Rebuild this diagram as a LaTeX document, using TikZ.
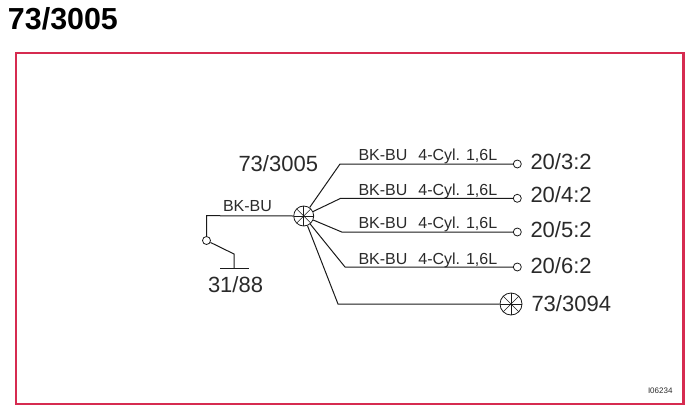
\documentclass[tikz,border=0pt]{standalone}
\usepackage{fontspec}
\setmainfont{Liberation Sans}
\definecolor{framered}{HTML}{D62B50}
\definecolor{inkgrey}{HTML}{1A1A1A}
\definecolor{textgrey}{HTML}{2A2A2A}
\tikzset{
  wire/.style={draw=inkgrey,line width=1pt},
  term/.style={circle,draw=inkgrey,line width=0.8pt,minimum size=8pt,inner sep=0pt,fill=white},
  starnode/.style={circle,draw=inkgrey,line width=0.8pt,minimum size=#1,inner sep=0pt,
    path picture={
      \foreach \a in {0,45,...,315}{
        \draw[inkgrey,line width=0.6pt] (path picture bounding box.center) -- ++(\a:#1/2);
      }}},
  lbl/.style={anchor=base west,inner sep=0pt,outer sep=0pt,text=textgrey},
  big/.style={lbl,font=\fontsize{22}{24}\selectfont},
  small/.style={lbl,font=\fontsize{16}{18}\selectfont},
}
\begin{document}
\begin{tikzpicture}[x=1pt,y=-1pt]
\useasboundingbox (0,0) rectangle (692,412);
\node[lbl,text=black,font=\fontsize{30.4}{32}\selectfont\bfseries] (title) at (8,30) {73/3005};
\node[draw=framered,line width=2.6pt,anchor=north west,outer sep=0pt,minimum width=667.5pt,minimum height=351pt,inner sep=0pt] (frame) at (16,53) {};

\node[starnode=20pt] (hub) at (303.7,216) {};
\node[starnode=22pt] (lamp) at (511,304) {};
\node[term] (sw) at (206.5,240.5) {};
\node[term] (t1) at (517.3,164) {};
\node[term] (t2) at (517.3,198.3) {};
\node[term] (t3) at (517.3,232) {};
\node[term] (t4) at (517.3,267) {};

\coordinate (c0) at (206.5,215.7);
\coordinate (g0) at (234,254);
\coordinate (g1) at (234,268);
\coordinate (gl) at (220,268);
\coordinate (gr) at (249,268);
\coordinate (c1) at (340,164);
\coordinate (c2) at (340.7,198.3);
\coordinate (c3) at (341.7,232);
\coordinate (c4) at (345,267);
\coordinate (c5) at (338,304);

\draw[wire] (hub.west) -- (c0) -- (sw);
\draw[wire] (sw) -- (g0) -- (g1);
\draw[wire] (gl) -- (gr);
\draw[wire] (hub) -- (c1) -- (t1);
\draw[wire] (hub) -- (c2) -- (t2);
\draw[wire] (hub) -- (c3) -- (t3);
\draw[wire] (hub) -- (c4) -- (t4);
\draw[wire] (hub) -- (c5) -- (lamp);

\node[big] (hubl) at (238.5,171.7) {73/3005};
\node[small] (bk) at (223,211) {BK-BU};
\node[big] (gnd) at (208,292.7) {31/88};
\newcommand{\wirelabel}{BK-BU\hspace{11pt}4-Cyl. 1,6L}
\node[small] (w1) at (358.5,160) {\wirelabel};
\node[small] (w2) at (358.5,195) {\wirelabel};
\node[small] (w3) at (358.5,228) {\wirelabel};
\node[small] (w4) at (358.5,264) {\wirelabel};
\node[big] (l1) at (530.5,169) {20/3:2};
\node[big] (l2) at (530.5,202.3) {20/4:2};
\node[big] (l3) at (530.5,237.7) {20/5:2};
\node[big] (l4) at (530.5,273.3) {20/6:2};
\node[big] (l5) at (531.5,311.7) {73/3094};
\node[lbl,font=\fontsize{8}{9}\selectfont] (ref) at (648,393) {I06234};
\end{tikzpicture}
\end{document}
